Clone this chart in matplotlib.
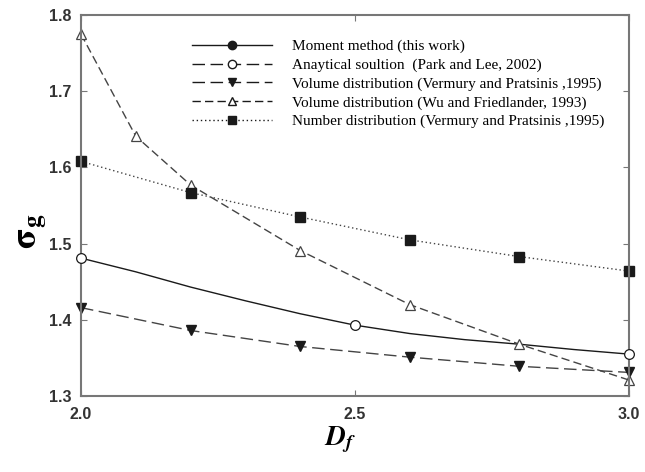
import matplotlib
matplotlib.use('Agg')
import matplotlib.pyplot as plt

# fractal dimension values
df_moment = [2.0, 2.1, 2.2, 2.3, 2.4, 2.5, 2.6, 2.7, 2.8, 2.9, 3.0]
sg_moment = [1.481, 1.463, 1.443, 1.425, 1.408, 1.393, 1.382, 1.374, 1.368, 1.361, 1.355]

df_park = [2.0, 2.5, 3.0]
sg_park = [1.481, 1.393, 1.355]

df_vp = [2.0, 2.2, 2.4, 2.6, 2.8, 3.0]
sg_vp_vol = [1.416, 1.386, 1.365, 1.351, 1.339, 1.331]
sg_vp_num = [1.608, 1.567, 1.535, 1.505, 1.483, 1.464]

df_wu = [2.0, 2.1, 2.2, 2.4, 2.6, 2.8, 3.0]
sg_wu = [1.775, 1.641, 1.577, 1.491, 1.420, 1.368, 1.321]

fig = plt.figure(figsize=(6.45, 4.72), dpi=100)
ax = fig.add_axes([0.1256, 0.161, 0.8494, 0.807])

c = '#1a1a1a'
g = '#444444'
ax.plot(df_moment, sg_moment, '-', color=c, lw=1.0)
ax.plot(df_park, sg_park, linestyle='none', marker='o', color=c, mfc='white',
        ms=7, mew=0.9, clip_on=False, zorder=5)
ax.plot(df_vp, sg_vp_vol, linestyle=(0, (9, 4)), color=g, lw=1.0,
        marker='v', mfc=c, mec=c, ms=7, clip_on=False)
ax.plot(df_wu, sg_wu, linestyle=(0, (6, 3)), color=g, lw=1.0,
        marker='^', mfc='white', mec=g, ms=7, mew=0.9, clip_on=False)
ax.plot(df_vp, sg_vp_num, linestyle=(0, (1, 2)), color=g, lw=1.0,
        marker='s', mfc=c, mec=c, ms=6.5, clip_on=False)

# legend entries
h1, = ax.plot([], [], '-', color=c, lw=1.0, marker='o', mfc=c, ms=6)
h2, = ax.plot([], [], linestyle=(0, (9, 4)), color=c, lw=1.0, marker='o', mfc='white', ms=6)
h3, = ax.plot([], [], linestyle=(0, (9, 4)), color=c, lw=1.0, marker='v', mfc=c, ms=6)
h4, = ax.plot([], [], linestyle=(0, (6, 3)), color=c, lw=1.0, marker='^', mfc='white', ms=6)
h5, = ax.plot([], [], linestyle=(0, (1, 2)), color=c, lw=1.0, marker='s', mfc=c, ms=6)
labels = ['Moment method (this work)',
          'Anaytical soultion  (Park and Lee, 2002)',
          'Volume distribution (Vermury and Pratsinis ,1995)',
          'Volume distribution (Wu and Friedlander, 1993)',
          'Number distribution (Vermury and Pratsinis ,1995)']
leg = ax.legend([h1, h2, h3, h4, h5], labels, loc='upper left',
                bbox_to_anchor=(0.178, 0.972), frameon=False,
                prop={'family': 'Liberation Serif', 'size': 11},
                handlelength=5.2, handletextpad=1.3, labelspacing=0.32)

ax.set_xlim(2.0, 3.0)
ax.set_ylim(1.3, 1.8)
ax.set_xticks([2.0, 2.5, 3.0])
ax.set_yticks([1.3, 1.4, 1.5, 1.6, 1.7, 1.8])
ax.set_xticklabels(['2.0', '2.5', '3.0'])
ax.set_yticklabels(['1.3', '1.4', '1.5', '1.6', '1.7', '1.8'])
ax.tick_params(direction='in', length=4, color='#777777', labelsize=11.5,
               labelcolor='#333333', top=True, right=True)
ax.tick_params(axis='x', pad=8)
ax.tick_params(axis='y', pad=7)
for lab in ax.get_xticklabels() + ax.get_yticklabels():
    lab.set_family('Liberation Sans')
    lab.set_fontweight('bold')
for s in ax.spines.values():
    s.set_color('#777777')
    s.set_linewidth(1.5)

fig.text(0.527, 0.068, r'$\mathbfit{D}_{\mathbfit{f}}$', fontsize=20, ha='center',
         va='center', math_fontfamily='stix')
fig.text(0.05, 0.51, r'$\mathbf{\sigma_g}$', fontsize=26, ha='center', va='center',
         rotation=90, math_fontfamily='stix')

fig.savefig('out.png', dpi=100)
